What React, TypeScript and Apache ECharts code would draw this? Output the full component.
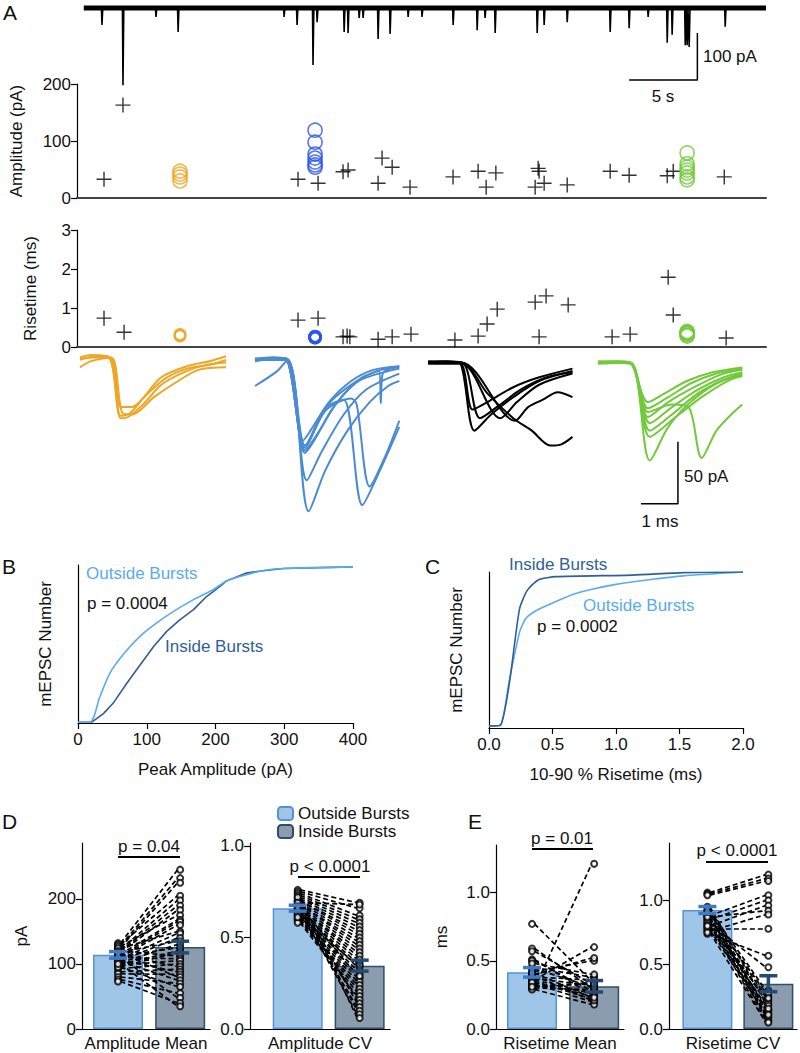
import React, { useEffect, useRef } from "react";
import * as echarts from "echarts";

const FONT = "'Liberation Sans', Arial, Helvetica, sans-serif";
const INK = "#111111";

// ---------- Panel A : raw trace (spike times in s, spike amplitudes in pA) ----------
const traceSpikeTimes = [1.33, 2.87, 5.29, 6.91, 14.68, 15.63, 16.8, 17.1, 19.08, 19.37, 20.18, 20.47, 21.57, 22.45, 23.77, 24.79, 27.07, 28.83, 29.41, 30.15, 33.23, 33.74, 35.43, 38.58, 39.97, 41.36, 42.76, 43.12, 44.08, 44.22, 44.37, 47.01];
const traceSpikeAmps = [36, 164, 19, 51, 19, 36, 121, 30, 51, 53, 21, 21, 66, 55, 19, 19, 36, 47, 21, 53, 53, 36, 30, 51, 43, 19, 74, 57, 79, 79, 83, 40];
const traceDuration = 50;

// ---------- Panel A : amplitude scatter ----------
const ampCrossTimes = [1.48, 2.87, 15.7, 17.17, 19.0, 19.37, 21.57, 21.86, 22.6, 23.91, 27.06, 28.9, 29.49, 30.2, 33.08, 33.3, 33.37, 33.74, 35.43, 38.58, 39.97, 42.76, 43.2, 46.94];
const ampCrossValues = [33, 163, 33, 26, 46, 49, 26, 70, 54, 19, 37, 47, 19, 44, 19, 52, 47, 26, 23, 47, 40, 39, 47, 37];
const orangeTime = 7.05;
const orangeAmp = [47, 42, 37, 30];
const blueTime = 16.95;
const blueAmp = [119, 98, 77, 70, 63, 58, 54];
const greenTime = 44.22;
const greenAmp = [79, 60, 54, 49, 44, 37, 32];

// ---------- Panel A : risetime scatter ----------
const riseCrossTimes = [1.48, 2.95, 15.7, 17.17, 19.0, 19.3, 19.5, 21.57, 22.6, 23.98, 27.2, 28.9, 29.56, 30.3, 33.08, 33.88, 33.37, 35.5, 38.72, 40.04, 42.83, 43.2, 47.08];
const riseCrossValues = [0.74, 0.38, 0.69, 0.74, 0.26, 0.28, 0.26, 0.2, 0.26, 0.33, 0.18, 0.28, 0.59, 0.97, 1.15, 1.31, 0.26, 1.08, 0.26, 0.33, 1.79, 0.82, 0.23];
const orangeRise = [0.28, 0.31, 0.33, 0.29];
const blueRise = [0.24, 0.25, 0.26, 0.27, 0.25, 0.26, 0.24];
const greenRise = [0.3, 0.35, 0.38, 0.33, 0.28, 0.4, 0.36];

// ---------- Panel A : averaged waveforms ([ms, pA]) ----------
const orangeWaves = [
  [[0, 0], [0.3, 2], [0.8, 0], [1.1, -49], [1.3, -48], [1.7, -38], [2.2, -22], [2.8, -12], [3.4, -6], [3.95, -4]],
  [[0, -2], [0.4, 1], [0.85, -1], [1.1, -40], [1.4, -40], [1.8, -30], [2.3, -17], [2.9, -9], [3.5, -6], [3.95, -2]],
  [[0, -8], [0.3, -3], [0.85, 0], [1.15, -45], [1.4, -46], [2.0, -32], [2.6, -20], [3.2, -10], [3.95, -8]],
  [[0, -1], [0.4, 0], [0.8, -1], [1.1, -47], [1.35, -45], [1.7, -33], [2.2, -16], [2.9, -7], [3.5, -3], [3.95, 1]],
];
const blueWaves = [
  [[0, 0], [0.5, 1], [0.85, 0], [1.3, -66], [1.5, -58], [2.0, -35], [2.6, -18], [3.2, -9], [3.9, -6]],
  [[0, -2], [0.5, 0], [0.85, -1], [1.35, -76], [1.6, -66], [2.1, -40], [2.7, -20], [3.3, -10], [3.9, -7]],
  [[0, -1], [0.5, 1], [0.85, 0], [1.35, -74], [1.7, -60], [2.2, -36], [2.8, -18], [3.9, -8]],
  [[0, 0], [0.85, 0], [1.4, -98], [1.8, -75], [2.4, -45], [3.0, -25], [3.9, -12]],
  [[0, -1], [0.85, -1], [1.45, -123], [1.9, -90], [2.5, -58], [3.1, -35], [3.6, -22], [3.9, -18]],
  [[0, 0], [0.85, 0], [1.35, -70], [1.9, -40], [2.4, -33], [2.9, -118], [3.3, -95], [3.9, -55]],
  [[0, -22], [0.6, -10], [0.85, -2], [1.35, -72], [1.9, -42], [2.6, -32], [2.75, -37], [3.1, -103], [3.5, -80], [3.9, -50]],
  [[0, -1], [0.85, 0], [1.35, -70], [2.0, -36], [2.9, -15], [3.35, -10], [3.4, -36], [3.45, -12], [3.9, -6]],
];
const blackWaves = [
  [[0, 0], [0.5, 1], [0.85, 0], [1.25, -55], [1.7, -42], [2.3, -28], [3.0, -15], [3.9, -7]],
  [[0, 1], [0.85, 0], [1.2, -38], [1.6, -32], [2.3, -20], [3.0, -12], [3.9, -5]],
  [[0, 0], [0.9, 0], [1.4, -45], [1.9, -35], [2.5, -22], [3.2, -12], [3.9, -8]],
  [[0, -1], [0.9, -1], [1.95, -45], [2.4, -32], [3.0, -18], [3.9, -9]],
  [[0, 0], [0.9, 0], [2.35, -47], [2.7, -36], [3.1, -30], [3.5, -24], [3.9, -28]],
  [[0, 0], [0.9, 0], [1.6, -25], [2.3, -45], [2.8, -55], [3.3, -67], [3.6, -66], [3.9, -60]],
];
const greenWaves = [
  [[0, 0], [0.5, 1], [0.86, 0], [1.35, -32], [1.8, -25], [2.4, -15], [3.1, -8], [3.9, -4]],
  [[0, -1], [0.86, 0], [1.35, -37], [1.9, -28], [2.5, -17], [3.2, -9], [3.9, -5]],
  [[0, 0], [0.86, -1], [1.35, -44], [1.9, -32], [2.6, -20], [3.3, -10], [3.9, -6]],
  [[0, 1], [0.86, 0], [1.4, -49], [2.0, -36], [2.7, -22], [3.4, -12], [3.9, -8]],
  [[0, 0], [0.86, 0], [1.4, -55], [2.0, -42], [2.7, -25], [3.4, -14], [3.9, -9]],
  [[0, 0], [0.86, 0], [1.4, -60], [2.1, -44], [2.8, -28], [3.5, -15], [3.9, -11]],
  [[0, 0], [0.86, 0], [1.4, -79], [1.9, -52], [2.5, -32], [3.2, -17], [3.9, -10]],
  [[0, 0], [0.86, 0], [1.35, -40], [2.0, -34], [2.45, -36], [2.8, -77], [3.2, -55], [3.6, -42], [3.9, -34]],
];

// ---------- Panel B : cumulative amplitude ([pA, fraction]) ----------
const ampCdfOutside = [[0, 0.005], [17, 0.005], [32, 0.17], [46.5, 0.32], [66, 0.44], [90, 0.555], [114, 0.64], [139, 0.715], [168, 0.79], [197, 0.855], [216, 0.91], [245, 0.95], [274, 0.98], [299, 0.99], [400, 1.0]];
const ampCdfInside = [[0, 0.005], [20, 0.005], [37, 0.06], [51, 0.126], [71, 0.255], [90, 0.37], [110, 0.49], [129, 0.587], [148, 0.66], [168, 0.726], [187, 0.81], [207, 0.876], [216, 0.91], [245, 0.96], [260, 0.97], [299, 0.99], [400, 1.0]];

// ---------- Panel C : cumulative risetime ([ms, fraction]) ----------
const riseCdfInside = [[0, 0.005], [0.09, 0.01], [0.16, 0.28], [0.24, 0.76], [0.3, 0.88], [0.39, 0.95], [0.53, 0.97], [1.13, 0.98], [1.53, 0.996], [2.0, 1]];
const riseCdfOutside = [[0, 0.005], [0.09, 0.01], [0.16, 0.3], [0.24, 0.61], [0.29, 0.7], [0.37, 0.75], [0.5, 0.8], [0.66, 0.855], [0.82, 0.89], [1.0, 0.92], [1.26, 0.95], [1.53, 0.975], [2.0, 1]];

// ---------- Panels D, E : bars (outside, inside) and SEM ----------
const ampMeanBars = [114, 126];
const ampMeanSem = [5, 9];
const ampCvBars = [0.66, 0.346];
const ampCvSem = [0.016, 0.03];
const riseMeanBars = [0.415, 0.313];
const riseMeanSem = [0.035, 0.042];
const riseCvBars = [0.925, 0.352];
const riseCvSem = [0.027, 0.062];

// paired cells: [outside, inside]
const ampMeanPairs = [[132, 245], [128, 232], [125, 225], [130, 205], [122, 198], [120, 190], [118, 183], [127, 175], [115, 168], [112, 165], [110, 160], [124, 150], [108, 147], [105, 140], [118, 135], [102, 130], [112, 125], [100, 120], [96, 117], [120, 112], [110, 108], [98, 105], [93, 100], [115, 96], [88, 92], [106, 88], [85, 84], [117, 80], [104, 75], [80, 70], [95, 65], [76, 55], [110, 48], [73, 40], [100, 35]];
const ampCvPairs = [[0.76, 0.69], [0.75, 0.66], [0.74, 0.62], [0.73, 0.6], [0.72, 0.58], [0.71, 0.56], [0.7, 0.54], [0.7, 0.52], [0.69, 0.5], [0.68, 0.48], [0.68, 0.46], [0.67, 0.44], [0.66, 0.42], [0.66, 0.4], [0.65, 0.38], [0.64, 0.36], [0.64, 0.34], [0.63, 0.32], [0.62, 0.3], [0.62, 0.28], [0.61, 0.26], [0.6, 0.24], [0.6, 0.22], [0.59, 0.2], [0.58, 0.18], [0.66, 0.16], [0.7, 0.14], [0.63, 0.12], [0.68, 0.1], [0.65, 0.08], [0.72, 0.06], [0.69, 0.68], [0.61, 0.35], [0.67, 0.29]];
const riseMeanPairs = [[0.77, 0.35], [0.59, 0.3], [0.57, 0.33], [0.51, 0.25], [0.5, 0.28], [0.45, 0.38], [0.42, 0.5], [0.4, 0.52], [0.38, 0.36], [0.37, 0.32], [0.36, 0.6], [0.35, 0.22], [0.33, 0.2], [0.32, 0.27], [0.31, 0.34], [0.3, 1.21], [0.3, 0.29], [0.29, 0.18], [0.36, 0.26], [0.44, 0.31], [0.34, 0.24], [0.48, 0.4], [0.39, 0.21], [0.31, 0.33], [0.41, 0.23]];
const riseCvPairs = [[1.06, 1.2], [1.05, 1.17], [1.04, 1.15], [0.88, 1.04], [0.85, 1.0], [0.8, 0.96], [0.87, 0.92], [0.76, 0.89], [0.78, 0.78], [0.74, 0.57], [0.82, 0.48], [0.92, 0.3], [0.9, 0.25], [0.86, 0.22], [0.95, 0.2], [0.84, 0.18], [0.79, 0.15], [0.77, 0.12], [0.83, 0.1], [0.88, 0.08], [0.81, 0.06], [0.75, 0.05], [0.93, 0.14], [0.89, 0.28], [0.87, 0.16], [0.91, 0.11], [0.8, 0.24]];

const categories = ["Amplitude Mean", "Amplitude CV", "Risetime Mean", "Risetime CV"];
const groupNames = ["Outside Bursts", "Inside Bursts"];
const ampTicks = [0, 100, 200];
const fracTicks = [0, 0.5, 1.0];

// styles
const C_ORANGE = "#efa626";
const C_BLUE_W = "#4a8bd4";
const C_GREEN = "#72c93c";
const C_BLUE_DOT = "#2b55ee";
const C_LIGHT = "#5aabf0";
const C_DARK = "#2f5f96";
const OUT_FILL = "#9fc6e9";
const OUT_EDGE = "#5593d6";
const IN_FILL = "#8a9cad";
const IN_EDGE = "#2d4e70";
const OUT_ERR = "#3d7bc6";
const IN_ERR = "#264b72";

// wave group offsets (ms, pA) within the waveform strip
const waveOffsets = { orange: [0.08, 4], blue: [4.81, 3], black: [9.49, 0], green: [14.08, 0] };

export default function App() {
  const ref = useRef<HTMLDivElement>(null);

  useEffect(() => {
    if (!ref.current) return;
    const chart = echarts.init(ref.current, undefined, { renderer: "svg" });

    const txt = (x: number, y: number, text: string, opts: any = {}) => ({
      type: "text",
      x,
      y,
      silent: true,
      style: {
        text,
        fill: opts.fill || INK,
        fontSize: opts.size || 17,
        fontFamily: FONT,
        align: opts.align || "left",
        verticalAlign: "middle",
      },
    });
    const hline = (x1: number, x2: number, y: number) => ({
      type: "line",
      silent: true,
      shape: { x1, y1: y, x2, y2: y },
      style: { stroke: "#000", lineWidth: 2 },
    });

    const axisLabel = { fontSize: 17, color: INK, fontFamily: FONT, margin: 6 };
    const nameStyle = { fontSize: 17, color: INK, fontFamily: FONT };
    const blackLine = { show: true, onZero: false, lineStyle: { color: "#000", width: 1.2 } };
    const tickOut = { show: true, length: 6, lineStyle: { color: "#000", width: 1.2 } };

    const hiddenX = (min: number, max: number) => ({ type: "value", min, max, show: false, splitLine: { show: false } });

    const grids = [
      { left: 77, top: 0, width: 689, height: 200 },
      { left: 77, top: 84, width: 689, height: 114 },
      { left: 77, top: 230, width: 689, height: 117 },
      { left: 77, top: 350, width: 689, height: 170 },
      { left: 78, top: 565, width: 275, height: 158 },
      { left: 489, top: 572, width: 254, height: 156 },
      { left: 82, top: 843, width: 128, height: 186 },
      { left: 250, top: 843, width: 140, height: 186 },
      { left: 496, top: 845, width: 128, height: 186 },
      { left: 669, top: 843, width: 128, height: 188 },
    ];

    const barX = (min: number, max: number, gi: number, name: string) => ({
      type: "value",
      gridIndex: gi,
      min,
      max,
      axisLine: blackLine,
      axisTick: { show: false },
      axisLabel: { show: false },
      splitLine: { show: false },
      name,
      nameLocation: "middle",
      nameGap: 6,
      nameTextStyle: { ...nameStyle, verticalAlign: "top" },
    });

    const grayBase = { show: true, onZero: false, lineStyle: { color: "#444", width: 2 } };
    const xAxes: any[] = [
      { ...hiddenX(-0.5, traceDuration), gridIndex: 0 },
      { type: "value", gridIndex: 1, min: -0.5, max: traceDuration, axisLine: grayBase, axisTick: { show: false }, axisLabel: { show: false }, splitLine: { show: false } },
      { type: "value", gridIndex: 2, min: -0.5, max: traceDuration, axisLine: grayBase, axisTick: { show: false }, axisLabel: { show: false }, splitLine: { show: false } },
      { ...hiddenX(0, 18.62), gridIndex: 3 },
      { type: "value", gridIndex: 4, min: 0, max: 400, interval: 100, axisLine: blackLine, axisTick: tickOut, axisLabel: { ...axisLabel, margin: 8 }, splitLine: { show: false }, name: "Peak Amplitude (pA)", nameLocation: "middle", nameGap: 38, nameTextStyle: nameStyle },
      { type: "value", gridIndex: 5, min: 0, max: 2, interval: 0.5, axisLine: blackLine, axisTick: tickOut, axisLabel: { ...axisLabel, margin: 8, formatter: (v: number) => v.toFixed(1) }, splitLine: { show: false }, name: "10-90 % Risetime (ms)", nameLocation: "middle", nameGap: 38, nameTextStyle: nameStyle },
      barX(-0.58, 1.48, 6, categories[0]),
      barX(-0.77, 1.49, 7, categories[1]),
      barX(-0.58, 1.48, 8, categories[2]),
      barX(-0.63, 1.47, 9, categories[3]),
    ];

    const numY = (gi: number, min: number, max: number, ticks: number[], name: string, gap: number, dec = 0) => ({
      type: "value",
      gridIndex: gi,
      min,
      max,
      axisLine: blackLine,
      axisTick: { ...tickOut, customValues: ticks },
      axisLabel: { ...axisLabel, customValues: ticks, formatter: (v: number) => v.toFixed(dec) },
      splitLine: { show: false },
      name,
      nameLocation: "middle",
      nameGap: gap,
      nameRotate: 90,
      nameTextStyle: nameStyle,
    });

    const yAxes: any[] = [
      { type: "value", gridIndex: 0, min: -408, max: 17, show: false, splitLine: { show: false } },
      numY(1, 0, 200, ampTicks, "Amplitude (pA)", 52),
      numY(2, 0, 3, [0, 1, 2, 3], "Risetime (ms)", 38),
      { type: "value", gridIndex: 3, min: -127, max: 10, show: false, splitLine: { show: false } },
      { type: "value", gridIndex: 4, min: 0, max: 1.012, axisLine: blackLine, axisTick: { show: false }, axisLabel: { show: false }, splitLine: { show: false }, name: "mEPSC Number", nameLocation: "middle", nameGap: 24, nameRotate: 90, nameTextStyle: nameStyle },
      { type: "value", gridIndex: 5, min: -0.008, max: 1.0, axisLine: blackLine, axisTick: { show: false }, axisLabel: { show: false }, splitLine: { show: false }, name: "mEPSC Number", nameLocation: "middle", nameGap: 24, nameRotate: 90, nameTextStyle: nameStyle },
      numY(6, 0, 286, ampTicks, "pA", 52),
      numY(7, 0, 1.016, fracTicks, "", 40, 1),
      numY(8, 0, 1.348, fracTicks, "ms", 46, 1),
      numY(9, 0, 1.446, fracTicks, "", 40, 1),
    ];

    const series: any[] = [];

    // raw trace
    const spikeData: any[] = [[0, 0]];
    traceSpikeTimes.forEach((t, i) => {
      spikeData.push([t - 0.04, 0], [t, -traceSpikeAmps[i]], [t + 0.06, 0]);
    });
    spikeData.push([traceDuration, 0]);
    series.push({ type: "line", xAxisIndex: 0, yAxisIndex: 0, data: [[0, 0], [traceDuration, 0]], showSymbol: false, lineStyle: { color: "#000", width: 5 }, silent: true });
    series.push({ type: "line", xAxisIndex: 0, yAxisIndex: 0, data: spikeData, showSymbol: false, lineStyle: { color: "#000", width: 1.6 }, silent: true });
    // trace scale bar (5 s, 100 pA)
    series.push({ type: "line", xAxisIndex: 0, yAxisIndex: 0, data: [[39.97, -153], [44.97, -153], [44.97, -53]], showSymbol: false, lineStyle: { color: "#000", width: 1.5 }, silent: true });

    const crossSym = "path://M5,0L5,10M0,5L10,5";
    const crossStyle = { color: "rgba(0,0,0,0)", borderColor: "#000", borderWidth: 1.4 };
    const circ = (c: string) => ({ color: "rgba(0,0,0,0)", borderColor: c, borderWidth: 1.6 });

    // amplitude scatter
    series.push({ type: "scatter", xAxisIndex: 1, yAxisIndex: 1, data: ampCrossTimes.map((t, i) => [t, ampCrossValues[i]]), symbol: crossSym, symbolSize: 15, itemStyle: crossStyle, silent: true });
    series.push({ type: "scatter", xAxisIndex: 1, yAxisIndex: 1, data: orangeAmp.map((v) => [orangeTime, v]), symbol: "circle", symbolSize: 14, itemStyle: circ(C_ORANGE), silent: true });
    series.push({ type: "scatter", xAxisIndex: 1, yAxisIndex: 1, data: blueAmp.map((v) => [blueTime, v]), symbol: "circle", symbolSize: 14, itemStyle: circ(C_BLUE_DOT), silent: true });
    series.push({ type: "scatter", xAxisIndex: 1, yAxisIndex: 1, data: greenAmp.map((v) => [greenTime, v]), symbol: "circle", symbolSize: 14, itemStyle: circ(C_GREEN), silent: true });

    // risetime scatter
    series.push({ type: "scatter", xAxisIndex: 2, yAxisIndex: 2, data: riseCrossTimes.map((t, i) => [t, riseCrossValues[i]]), symbol: crossSym, symbolSize: 15, itemStyle: crossStyle, silent: true });
    series.push({ type: "scatter", xAxisIndex: 2, yAxisIndex: 2, data: orangeRise.map((v) => [orangeTime, v]), symbol: "circle", symbolSize: 11, itemStyle: circ(C_ORANGE), silent: true });
    series.push({ type: "scatter", xAxisIndex: 2, yAxisIndex: 2, data: blueRise.map((v) => [blueTime, v]), symbol: "circle", symbolSize: 11, itemStyle: { ...circ(C_BLUE_DOT), borderWidth: 2.5 }, silent: true });
    series.push({ type: "scatter", xAxisIndex: 2, yAxisIndex: 2, data: greenRise.map((v) => [greenTime, v]), symbol: "circle", symbolSize: 14, itemStyle: circ(C_GREEN), silent: true });

    // waveforms
    const addWaves = (waves: number[][][], off: number[], color: string) => {
      waves.forEach((w) => {
        series.push({ type: "line", xAxisIndex: 3, yAxisIndex: 3, data: w.map(([t, a]) => [t + off[0], a + off[1]]), smooth: 0.3, showSymbol: false, lineStyle: { color, width: 2 }, silent: true });
      });
    };
    addWaves(orangeWaves, waveOffsets.orange, C_ORANGE);
    addWaves(blueWaves, waveOffsets.blue, C_BLUE_W);
    addWaves(blackWaves, waveOffsets.black, "#000");
    addWaves(greenWaves, waveOffsets.green, C_GREEN);
    // waveform scale bar (1 ms, 50 pA)
    series.push({ type: "line", xAxisIndex: 3, yAxisIndex: 3, data: [[15.24, -114], [16.24, -114], [16.24, -64]], showSymbol: false, lineStyle: { color: "#000", width: 1.5 }, silent: true });

    // CDFs
    series.push({ type: "line", xAxisIndex: 4, yAxisIndex: 4, data: ampCdfInside, showSymbol: false, lineStyle: { color: C_DARK, width: 1.6 }, silent: true });
    series.push({ type: "line", xAxisIndex: 4, yAxisIndex: 4, data: ampCdfOutside, showSymbol: false, smooth: 0.3, lineStyle: { color: C_LIGHT, width: 1.6 }, silent: true });
    series.push({ type: "line", xAxisIndex: 5, yAxisIndex: 5, data: riseCdfOutside, showSymbol: false, smooth: 0.2, lineStyle: { color: C_LIGHT, width: 1.6 }, silent: true });
    series.push({ type: "line", xAxisIndex: 5, yAxisIndex: 5, data: riseCdfInside, showSymbol: false, smooth: 0.2, lineStyle: { color: C_DARK, width: 1.6 }, silent: true });

    // bar panels
    const errRender = (params: any, api: any) => {
      const x = api.value(0);
      const lo = api.coord([x, api.value(1)]);
      const hi = api.coord([x, api.value(2)]);
      const color = params.dataIndex === 0 ? OUT_ERR : IN_ERR;
      const hw = 9;
      const st = { stroke: color, lineWidth: 3.5 };
      return {
        type: "group",
        children: [
          { type: "line", shape: { x1: lo[0], y1: lo[1], x2: hi[0], y2: hi[1] }, style: st },
          { type: "line", shape: { x1: lo[0] - hw, y1: lo[1], x2: lo[0] + hw, y2: lo[1] }, style: st },
          { type: "line", shape: { x1: hi[0] - hw, y1: hi[1], x2: hi[0] + hw, y2: hi[1] }, style: st },
        ],
      };
    };
    const addBarPanel = (ai: number, bars: number[], sem: number[], pairs: number[][]) => {
      series.push({ name: groupNames[0], type: "bar", xAxisIndex: ai, yAxisIndex: ai, data: [[0, bars[0]]], barWidth: 50, barGap: "-100%", itemStyle: { color: OUT_FILL, borderColor: OUT_EDGE, borderWidth: 1.5 }, z: 1, silent: true });
      series.push({ name: groupNames[1], type: "bar", xAxisIndex: ai, yAxisIndex: ai, data: [[1, bars[1]]], barWidth: 50, barGap: "-100%", itemStyle: { color: IN_FILL, borderColor: IN_EDGE, borderWidth: 1.5 }, z: 1, silent: true });
      series.push({
        type: "lines",
        coordinateSystem: "cartesian2d",
        xAxisIndex: ai,
        yAxisIndex: ai,
        data: pairs.map(([a, b]) => ({ coords: [[0.04, a], [0.96, b]] })),
        lineStyle: { color: "#000", width: 1.7, type: [5, 3], opacity: 1 },
        z: 3,
        silent: true,
      });
      series.push({
        type: "scatter",
        xAxisIndex: ai,
        yAxisIndex: ai,
        data: [...pairs.map((p) => [0, p[0]]), ...pairs.map((p) => [1, p[1]])],
        symbol: "emptyCircle",
        symbolSize: 6,
        itemStyle: { color: "#000", borderWidth: 1 },
        z: 4,
        silent: true,
      });
      series.push({
        type: "custom",
        xAxisIndex: ai,
        yAxisIndex: ai,
        data: [[0, bars[0] - sem[0], bars[0] + sem[0]], [1, bars[1] - sem[1], bars[1] + sem[1]]],
        encode: { x: 0, y: [1, 2] },
        renderItem: errRender,
        z: 5,
        silent: true,
      });
    };
    addBarPanel(6, ampMeanBars, ampMeanSem, ampMeanPairs);
    addBarPanel(7, ampCvBars, ampCvSem, ampCvPairs);
    addBarPanel(8, riseMeanBars, riseMeanSem, riseMeanPairs);
    addBarPanel(9, riseCvBars, riseCvSem, riseCvPairs);

    const graphic: any[] = [
      txt(3, 12, "A", { size: 21 }),
      txt(703, 56, "100 pA"),
      txt(663, 96, "5 s", { align: "center" }),
      txt(684, 476, "50 pA"),
      txt(660, 521, "1 ms", { align: "center" }),
      txt(2, 566, "B", { size: 21 }),
      txt(425, 566, "C", { size: 21 }),
      txt(2, 821, "D", { size: 21 }),
      txt(468, 821, "E", { size: 21 }),
      txt(86, 573, "Outside Bursts", { fill: C_LIGHT }),
      txt(87, 603, "p = 0.0004"),
      txt(165, 646, "Inside Bursts", { fill: C_DARK }),
      txt(509, 564, "Inside Bursts", { fill: C_DARK }),
      txt(583, 605, "Outside Bursts", { fill: C_LIGHT }),
      txt(537, 626, "p = 0.0002"),
      txt(149, 846, "p = 0.04", { align: "center" }),
      hline(118, 180, 857),
      txt(330, 866, "p < 0.0001", { align: "center" }),
      hline(298, 360, 877),
      txt(562, 838, "p = 0.01", { align: "center" }),
      hline(532, 593, 849),
      txt(737, 850, "p < 0.0001", { align: "center" }),
      hline(706, 768, 862),
    ];

    chart.setOption({
      animation: false,
      textStyle: { fontFamily: FONT },
      grid: grids,
      xAxis: xAxes,
      yAxis: yAxes,
      legend: {
        data: groupNames,
        left: 272,
        top: 800,
        orient: "vertical",
        itemWidth: 15,
        itemHeight: 13,
        itemGap: 1,
        selectedMode: false,
        textStyle: { fontSize: 17, color: INK, fontFamily: FONT },
      },
      series,
      graphic,
    });

    return () => chart.dispose();
  }, []);

  return <div ref={ref} style={{ position: "absolute", left: 0, top: 0, width: 800, height: 1053, background: "#fff" }} />;
}
